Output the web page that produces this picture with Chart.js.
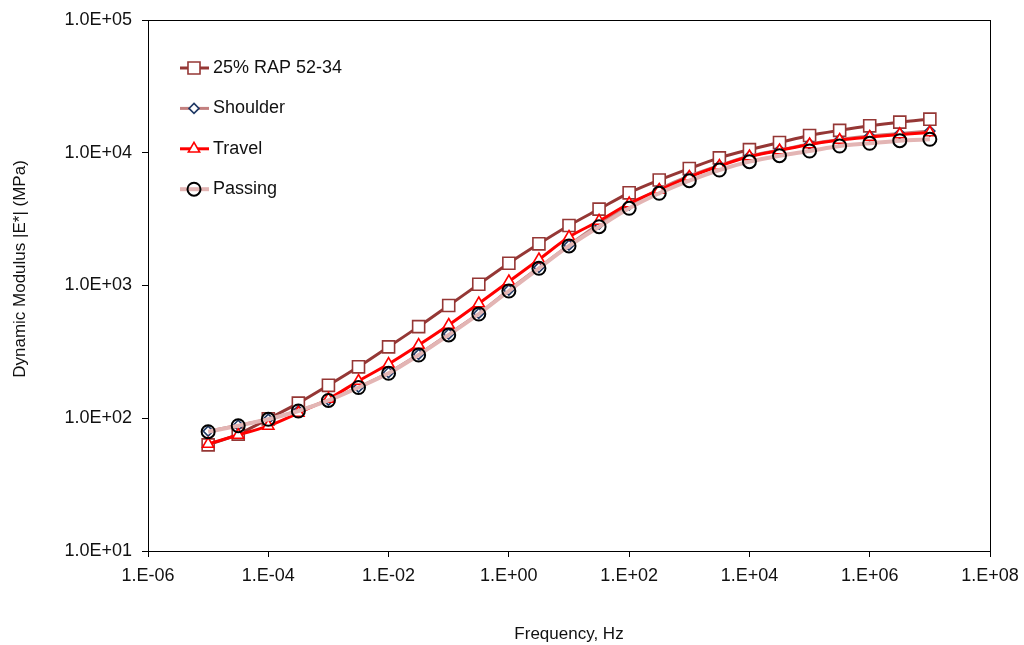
<!DOCTYPE html>
<html>
<head>
<meta charset="utf-8">
<title>Dynamic Modulus Master Curves</title>
<script src="https://cdn.jsdelivr.net/npm/chart.js@4/dist/chart.umd.min.js"></script>
<style>
  html, body { margin: 0; padding: 0; background: #ffffff; }
  #wrap { width: 1024px; height: 645px; position: relative; }
</style>
</head>
<body>
<div id="wrap"><canvas id="chart"></canvas></div>
<script>
// Loading frequencies (Hz), half-decade steps
const frequencies = [1e-5, 3.162e-5, 1e-4, 3.162e-4, 1e-3, 3.162e-3, 1e-2, 3.162e-2, 1e-1, 3.162e-1,
                     1, 3.162, 10, 31.62, 100, 316.2, 1000, 3162, 1e4, 3.162e4, 1e5, 3.162e5, 1e6, 3.162e6, 1e7];

// |E*| in MPa for each mix
const rap52_34 = [63, 76, 99, 130, 177, 244, 345, 490, 707, 1022, 1472, 2060, 2830, 3760, 4990,
                  6230, 7600, 9150, 10550, 11950, 13500, 14750, 15950, 17000, 17900];
const shoulder = [80, 88.5, 98.5, 114, 137, 171.5, 221, 303, 431, 616, 925, 1368, 2014, 2900, 4040,
                  5330, 6680, 8020, 9450, 10490, 11640, 12580, 13370, 13960, 14580];
const travel   = [64, 74.8, 87.5, 109.6, 139.6, 190.8, 256, 356, 504, 732, 1072, 1570, 2319, 3063, 4147,
                  5240, 6565, 7945, 9370, 10400, 11540, 12480, 13140, 13730, 14210];
const passing  = [79.2, 87.9, 98.2, 113.4, 136.1, 170.5, 218, 299.5, 424, 610, 909, 1348, 1985, 2773, 3816,
                  4950, 6155, 7413, 8570, 9500, 10310, 11240, 11780, 12330, 12630];

const seriesNames = ['25% RAP 52-34', 'Shoulder', 'Travel', 'Passing'];

// Axis ticks and their labels
const xTickValues = [1e-6, 1e-4, 1e-2, 1, 1e2, 1e4, 1e6, 1e8];
const xTickLabels = ['1.E-06', '1.E-04', '1.E-02', '1.E+00', '1.E+02', '1.E+04', '1.E+06', '1.E+08'];
const yTickValues = [10, 100, 1000, 10000, 100000];
const yTickLabels = ['1.0E+01', '1.0E+02', '1.0E+03', '1.0E+04', '1.0E+05'];

const xTitle = 'Frequency, Hz';
const yTitle = 'Dynamic Modulus |E*| (MPa)';

const FONT = "'Liberation Sans', Arial, sans-serif";
const pts = vals => frequencies.map((f, i) => ({ x: f, y: vals[i] }));

const styles = [
  { line: '#953735', width: 3, shape: 'rect',     radius: 8.5, stroke: '#953735', fill: '#ffffff', bw: 1.6 },
  { line: '#C3807F', width: 3, shape: 'rectRot',  radius: 5,   stroke: '#1F3864', fill: '#ffffff', bw: 1.6 },
  { line: '#FF0000', width: 3, shape: 'triangle', radius: 6.5, stroke: '#FF0000', fill: '#ffffff', bw: 1.6 },
  { line: '#E3B5B4', width: 4, shape: 'circle',   radius: 6.5, stroke: '#000000', fill: 'rgba(0,0,0,0)', bw: 2 }
];
const seriesValues = [rap52_34, shoulder, travel, passing];

const datasets = seriesValues.map((vals, i) => ({
  label: seriesNames[i],
  data: pts(vals),
  borderColor: styles[i].line,
  borderWidth: styles[i].width,
  pointStyle: styles[i].shape,
  pointRadius: styles[i].radius,
  pointBorderColor: styles[i].stroke,
  pointBackgroundColor: styles[i].fill,
  pointBorderWidth: styles[i].bw,
  tension: 0.3,
  fill: false,
  order: 4 - i
}));

// Frame around the plot area, the in-plot legend and the vertical axis title
const decorations = {
  id: 'decorations',
  afterDraw(chart) {
    const { ctx, chartArea: a } = chart;
    ctx.save();
    ctx.strokeStyle = '#000';
    ctx.lineWidth = 1;
    ctx.strokeRect(Math.round(a.left) + 0.5, Math.round(a.top) + 0.5,
                   Math.round(a.right - a.left), Math.round(a.bottom - a.top));

    // legend
    ctx.font = '18px ' + FONT;
    ctx.textBaseline = 'middle';
    ctx.textAlign = 'left';
    styles.forEach((s, i) => {
      const y = 68 + i * 40.4;
      ctx.strokeStyle = s.line;
      ctx.lineWidth = s.width;
      ctx.beginPath();
      ctx.moveTo(180, y);
      ctx.lineTo(209, y);
      ctx.stroke();
      ctx.lineWidth = s.bw;
      ctx.strokeStyle = s.stroke;
      ctx.fillStyle = s.fill;
      const cx = 194, r = s.radius;
      ctx.beginPath();
      if (s.shape === 'rect') {
        const h = r * Math.SQRT1_2;
        ctx.rect(cx - h, y - h, 2 * h, 2 * h);
      } else if (s.shape === 'rectRot') {
        ctx.moveTo(cx, y - r); ctx.lineTo(cx + r, y); ctx.lineTo(cx, y + r); ctx.lineTo(cx - r, y); ctx.closePath();
      } else if (s.shape === 'triangle') {
        ctx.moveTo(cx, y - r);
        ctx.lineTo(cx + r * Math.sin(Math.PI / 3), y + r / 2);
        ctx.lineTo(cx - r * Math.sin(Math.PI / 3), y + r / 2);
        ctx.closePath();
      } else {
        ctx.arc(cx, y, r, 0, Math.PI * 2);
      }
      ctx.fill();
      ctx.stroke();
      ctx.fillStyle = '#111';
      ctx.fillText(seriesNames[i], 213, y);
    });

    // y-axis title
    ctx.translate(20, 269);
    ctx.rotate(-Math.PI / 2);
    ctx.textAlign = 'center';
    ctx.font = '17px ' + FONT;
    ctx.fillStyle = '#111';
    ctx.fillText(yTitle, 0, 0);
    ctx.restore();
  }
};

new Chart(document.getElementById('chart'), {
  type: 'line',
  data: { datasets },
  plugins: [decorations],
  options: {
    responsive: true,
    maintainAspectRatio: false,
    animation: false,
    layout: { padding: { top: 20, right: 34, left: 0, bottom: 0 } },
    plugins: { legend: { display: false }, tooltip: { enabled: false } },
    scales: {
      x: {
        type: 'logarithmic',
        min: 1e-6,
        max: 1e8,
        afterBuildTicks: s => { s.ticks = xTickValues.map(v => ({ value: v })); },
        afterFit: s => { s.height = 94; s.paddingLeft = 0; s.paddingRight = 0; },
        ticks: {
          autoSkip: false,
          maxRotation: 0,
          padding: 8,
          color: '#111',
          font: { family: FONT, size: 18 },
          callback: v => { const i = xTickValues.indexOf(v); return i >= 0 ? xTickLabels[i] : ''; }
        },
        grid: { display: true, drawOnChartArea: false, drawTicks: true, tickLength: 6, color: '#000' },
        border: { display: true, color: '#000', width: 1 },
        title: { display: true, text: xTitle, color: '#111', font: { family: FONT, size: 17 }, padding: { top: 0, bottom: 0 } }
      },
      y: {
        type: 'logarithmic',
        min: 10,
        max: 100000,
        afterBuildTicks: s => { s.ticks = yTickValues.map(v => ({ value: v })); },
        afterFit: s => { s.width = 148; s.paddingTop = 0; s.paddingBottom = 0; },
        ticks: {
          autoSkip: false,
          padding: 10,
          color: '#111',
          font: { family: FONT, size: 18 },
          callback: v => { const i = yTickValues.indexOf(v); return i >= 0 ? yTickLabels[i] : ''; }
        },
        grid: { display: true, drawOnChartArea: false, drawTicks: true, tickLength: 6, color: '#000' },
        border: { display: true, color: '#000', width: 1 }
      }
    }
  }
});
</script>
</body>
</html>
